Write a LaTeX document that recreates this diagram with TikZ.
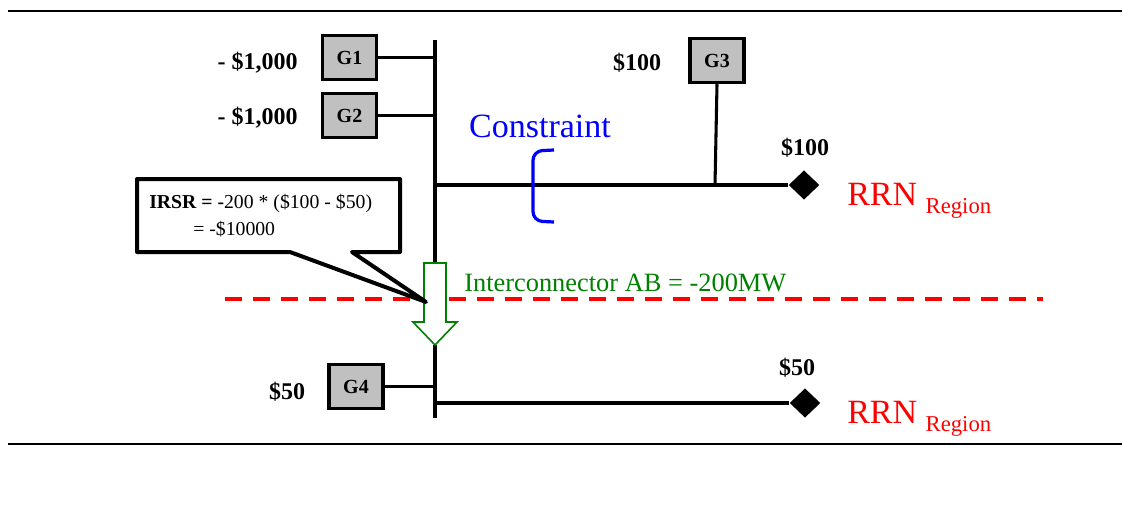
\documentclass[tikz,border=0pt]{standalone}
\usepackage{fontspec}
\setmainfont{Liberation Serif}
\usetikzlibrary{shapes.geometric}
\definecolor{gfill}{HTML}{C0C0C0}
\definecolor{igreen}{HTML}{008000}
\begin{document}
\begin{tikzpicture}[x=0.75pt,y=-0.75pt,
  gbox/.style={draw, fill=gfill, line width=2.6pt, minimum width=40.5pt, minimum height=33pt, inner sep=0pt, font=\fontsize{15}{17}\selectfont\bfseries},
  wire/.style={line width=2.3pt},
  rule/.style={line width=1.6pt},
  price/.style={font=\fontsize{18}{21}\selectfont\bfseries, inner sep=0pt},
  rrn/.style={text=red, font=\fontsize{25.5}{30}\selectfont, inner sep=0pt, anchor=base west},
  term/.style={diamond, fill=black, minimum width=23pt, minimum height=22pt, inner sep=0pt},
  calltext/.style={font=\fontsize{14.8}{17}\selectfont, inner sep=0pt, anchor=base west}
]
\useasboundingbox (0,0) rectangle (1123,504);

% top and bottom rules
\draw[rule] (8,11) -- (1122,11);
\draw[rule] (8,444) -- (1122,444);

% red dashed boundary
\draw[red, line width=3pt, dash pattern=on 12.5pt off 8.5pt] (225,299) -- (1043,299);

% named points on the buses
\coordinate (busTop) at (435,40);
\coordinate (arrTop) at (435,263);
\coordinate (arrTip) at (435,345);
\coordinate (busBot) at (435,418);
\coordinate (busA) at (435,185);
\coordinate (busB) at (435,403);
\coordinate (g3tap) at (715,185);

% generators
\node[gbox] (G1) at (349.5,57.5) {G1};
\node[gbox] (G2) at (349.5,115.5) {G2};
\node[gbox] (G3) at (717,60.5) {G3};
\node[gbox] (G4) at (356,386.5) {G4};

% terminals
\node[term] (D1) at (804,185) {};
\node[term] (D2) at (805,403) {};

% buses and connectors
\draw[wire] (busTop) -- (arrTop);
\draw[wire] (arrTip) -- (busBot);
\draw[wire] (G1.east) -- (G1.east -| busTop);
\draw[wire] (G2.east) -- (G2.east -| busTop);
\draw[wire] (G4.east) -- (G4.east -| busTop);
\draw[wire] (busA) -- (D1);
\draw[wire] (busB) -- (D2);
\draw[wire] (G3.south) -- (g3tap);

% constraint bracket
\draw[blue, line width=2.4pt, rounded corners=7pt] (554,150) -- (533,151) -- (533,221) -- (554,222);
\node[text=blue, font=\fontsize{25.5}{30}\selectfont, inner sep=0pt] (cons) at (540,126) {Constraint};

% prices
\node[price, anchor=east] (p1) at (298,63) {- \$1,000};
\node[price, anchor=east] (p2) at (298,118) {- \$1,000};
\node[price] (p3) at (637,63) {\$100};
\node[price] (p4) at (805,148) {\$100};
\node[price] (p5) at (287,392) {\$50};
\node[price] (p6) at (797,368) {\$50};

% regional reference nodes
\node[rrn] (r1) at (847,205) {RRN \raisebox{-6pt}{\fontsize{17}{20}\selectfont Region}};
\node[rrn] (r2) at (847,423) {RRN \raisebox{-6pt}{\fontsize{17}{20}\selectfont Region}};

% interconnector arrow
\draw[igreen, line width=1.2pt, fill=white] (424,263) -- (446,263) -- (446,322) -- (457,322) -- (arrTip) -- (413,322) -- (424,322) -- cycle;
\node[text=igreen, font=\fontsize{19.8}{23}\selectfont, inner sep=0pt, anchor=west] (ic) at (464,283) {Interconnector AB = -200MW};

% callout
\draw[line width=3pt, fill=white, line join=round] (137,179) -- (400,179) -- (400,252) -- (352,252) -- (426,302) -- (290,252) -- (137,252) -- cycle;
\node[calltext] (irsr1) at (149,208) {\textbf{IRSR = -}200 * (\$100 - \$50)};
\node[calltext] (irsr2) at (193,235) {= -\$10000};
\end{tikzpicture}
\end{document}
